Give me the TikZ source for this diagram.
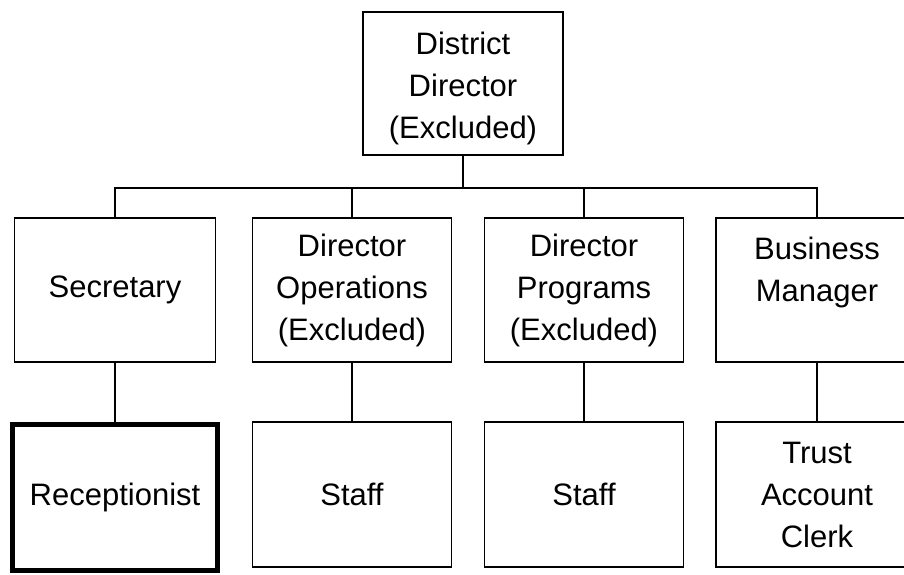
\documentclass[tikz,border=0pt]{standalone}
\usepackage{fontspec}
\setmainfont{Liberation Sans}
\begin{document}
\begin{tikzpicture}[x=1pt,y=-1pt,
  box/.style={draw, line width=1.6pt, inner sep=0pt, minimum width=199pt, align=center,
    font=\fontsize{31}{42}\selectfont},
  rowtwo/.style={box, minimum height=144pt},
  rowthree/.style={box, minimum height=145pt},
  conn/.style={draw, line width=1.6pt}]
\useasboundingbox (0,0) rectangle (904,574);
\clip (0,0) rectangle (904,574);
\fill[white] (0,0) rectangle (904,574);
\node[box, minimum width=200pt, minimum height=143pt] (top) at (463,83.5) {\rule{0pt}{32pt}District\\Director\\(Excluded)};
\node[rowtwo, minimum width=201pt] (b1) at (115,290) {Secretary};
\node[rowtwo] (b2) at (352,290) {Director\\Operations\\(Excluded)};
\node[rowtwo] (b3) at (584,290) {Director\\Programs\\(Excluded)};
\node[rowtwo, minimum width=202pt] (b4) at (817,290) {Business\\Manager\\~};
\node[box, line width=5.5pt, minimum width=205pt, minimum height=146pt] (c1) at (115,497.5) {Receptionist};
\node[rowthree] (c2) at (352,494.5) {Staff};
\node[rowthree] (c3) at (584,494.5) {Staff};
\node[rowthree, minimum width=202pt] (c4) at (817,494.5) {Trust\\Account\\Clerk};
\coordinate (bus) at (463,188);
\draw[conn] (top.south) -- (bus);
\draw[conn] (bus) -| (b1.north);
\draw[conn] (bus) -| (b2.north);
\draw[conn] (bus) -| (b3.north);
\draw[conn] (bus) -| (b4.north);
\draw[conn] (b1.south) -- (b1.south |- c1.north);
\draw[conn] (b2.south) -- (b2.south |- c2.north);
\draw[conn] (b3.south) -- (b3.south |- c3.north);
\draw[conn] (b4.south) -- (b4.south |- c4.north);
\end{tikzpicture}
\end{document}
